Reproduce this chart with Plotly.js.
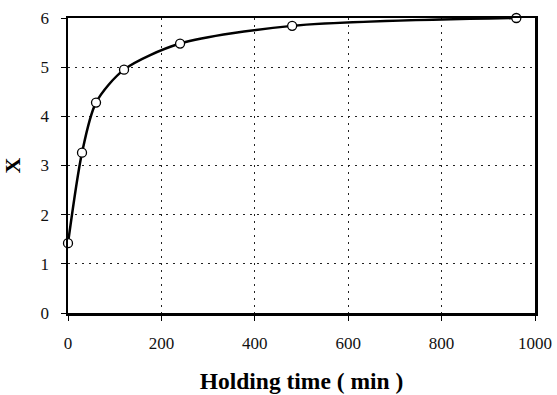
<!DOCTYPE html>
<html><head><meta charset="utf-8">
<script src="https://cdn.plot.ly/plotly-3.0.1.min.js"></script>
<style>html,body{margin:0;padding:0;background:#fff}#chart{width:557px;height:395px}</style>
</head><body><div id="chart"></div>
<script>
var holdingTime = [0, 30, 60, 120, 240, 480, 960];
var xValues = [1.42, 3.26, 4.28, 4.95, 5.48, 5.84, 6.0];
var xTicks = [0, 200, 400, 600, 800, 1000];
var yTicks = [0, 1, 2, 3, 4, 5, 6];

var SERIF = '"Liberation Serif", "Times New Roman", serif';
var trace = {
  x: holdingTime, y: xValues, mode: 'lines+markers', type: 'scatter',
  line: {color: '#000', width: 2.5, shape: 'spline', smoothing: 0.8},
  marker: {size: 9, color: '#fff', line: {color: '#000', width: 1.3}},
  showlegend: false, cliponaxis: false
};
function axisCommon() {
  return {
    showline: true, linecolor: '#000', linewidth: 2.5, mirror: true,
    ticks: 'outside', ticklen: 5, tickwidth: 1, tickcolor: '#000',
    showgrid: true, gridcolor: '#222', griddash: '2px,5px', gridwidth: 1.3,
    zeroline: false, ticklabelstandoff: 8,
    tickfont: {family: SERIF, size: 17, color: '#111'}
  };
}
var layout = {
  width: 557, height: 395,
  font: {family: SERIF, color: '#000'},
  margin: {l: 68, r: 22, t: 18, b: 82},
  paper_bgcolor: '#fff', plot_bgcolor: '#fff',
  xaxis: Object.assign(axisCommon(), {
    range: [0, 1000], tickvals: xTicks, ticktext: xTicks.map(String),
    title: {text: '<b>Holding time ( min )</b>', standoff: 21,
      font: {family: SERIF, size: 23.5, color: '#000'}}
  }),
  yaxis: Object.assign(axisCommon(), {
    range: [0, 6], tickvals: yTicks, ticktext: yTicks.map(String),
    title: {text: '<b>X</b>', standoff: 16,
      font: {family: SERIF, size: 22, color: '#000'}}
  })
};
Plotly.newPlot('chart', [trace], layout, {staticPlot: true, displayModeBar: false});
</script></body></html>
